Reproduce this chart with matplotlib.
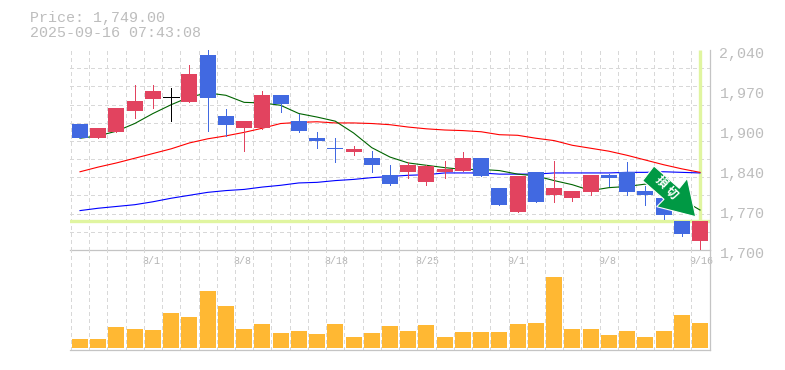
import matplotlib
matplotlib.use("Agg")
import matplotlib.pyplot as plt
from matplotlib.patches import Polygon
from matplotlib.transforms import Affine2D, ScaledTranslation

title_lines = ["Price: 1,749.00", "2025-09-16 07:43:08"]
last_price = 1749

opens = [1915,1891,1901,1937,1956,1960,1952,2032,1927,1907,1908,1964,1920,1891,1874,1867,1857,1827,
         1832,1816,1833,1835,1856,1806,1765,1833,1793,1788,1799,1827,1833,1801,1789,1749,1716]
closes = [1891,1907,1941,1954,1971,1960,2000,1959,1913,1920,1964,1949,1903,1886,1871,1871,1844,1813,
          1844,1842,1837,1856,1825,1777,1825,1781,1806,1801,1827,1823,1799,1793,1759,1728,1749]
highs = [1915,1907,1941,1980,1980,1976,2014,2041,1939,1920,1971,1964,1932,1901,1890,1876,1869,1845,
         1850,1844,1852,1866,1856,1806,1825,1833,1852,1801,1828,1830,1849,1809,1789,1749,1749]
lows = [1891,1890,1901,1925,1941,1920,1951,1903,1894,1869,1905,1934,1901,1874,1850,1862,1832,1811,
        1822,1811,1823,1835,1825,1777,1765,1781,1781,1784,1793,1808,1793,1777,1752,1723,1700]
ma_green = [1890,1894,1902,1915,1932,1947,1960,1967,1963,1951,1950,1946,1932,1926,1919,1899,1874,1858,
            1848,1844,1840,1837,1837,1835,1829,1826,1818,1811,1801,1806,1808,1812,1809,1786,1768]
ma_red = [1833,1841,1848,1856,1864,1872,1882,1889,1894,1900,1907,1915,1917,1918,1916,1916,1915,1913,
          1909,1906,1904,1903,1901,1896,1895,1890,1886,1878,1873,1868,1861,1853,1845,1838,1832]
ma_blue = [1767,1771,1774,1777,1782,1788,1793,1798,1801,1803,1807,1810,1814,1815,1818,1820,1823,1825,
           1827,1828,1831,1831,1831,1829,1829,1829,1831,1831,1831,1831,1832,1832,1833,1832,1831]
volumes = [270,270,630,570,540,1050,930,1710,1260,570,720,450,510,420,720,330,450,660,
           510,690,330,480,480,480,720,750,2130,570,570,390,510,330,510,990,750]
price_ticks = [1700,1768,1836,1904,1972,2040]
price_labels = ["1,700","1,770","1,840","1,900","1,970","2,040"]
date_positions = [4,9,14,19,24,29,34]
date_labels = ["8/1","8/8","8/18","8/25","9/1","9/8","9/16"]
signal_label = ["損", "切"]

RED, BLUE, GRID, AXIS, TXT = "#E2435F", "#4169E1", "#D8D8D8", "#C4C4C4", "#BDBDBD"
GUIDE, VOL, BADGE = "#E0F5A0", "#FFB833", "#009944"
W, H = 785, 370
plt.rcParams["font.family"] = ["Liberation Mono", "DejaVu Sans"]
fig = plt.figure(figsize=(W/100, H/100), dpi=100, facecolor="white")

def rect(x0, y0, x1, y1):
    return [x0/W, 1-y1/H, (x1-x0)/W, (y1-y0)/H]

ax = fig.add_axes(rect(70, 50, 710, 250))
axv = fig.add_axes(rect(70, 250, 710, 350))
idx = list(range(len(opens)))
step = 18.235
xlim = ((70-80)/step, (710-80)/step)
edges = [i-0.5 for i in idx]
hgrid = [1700 + k*340/11 for k in range(12)]

for a in (ax, axv):
    a.set_xlim(*xlim)
    a.set_facecolor("none")
    a.set_axisbelow(True)
    a.set_xticks(edges, minor=True)
    a.tick_params(which="both", length=0)
    a.grid(True, which="minor", axis="x", color=GRID, lw=0.72, ls=(0, (3, 3)), antialiased=False)
    for s in ("left", "top"):
        a.spines[s].set_visible(False)
    for s in ("right", "bottom"):
        a.spines[s].set_color(AXIS)
        a.spines[s].set_linewidth(0.9)

ax.set_ylim(1700, 2040)
ax.set_yticks(hgrid, minor=True)
ax.grid(True, which="minor", axis="y", color=GRID, lw=0.72, ls=(0, (3, 3)), antialiased=False)
for axis in (ax.xaxis, ax.yaxis, axv.xaxis):
    for tick in axis.get_minor_ticks():
        tick.gridline.set_clip_on(False)

ax.yaxis.tick_right()
ax.set_yticks(price_ticks, price_labels)
ax.tick_params(axis="y", which="major", pad=6.8, labelsize=10.8, labelcolor=TXT)
px = fig.dpi_scale_trans
down3 = ScaledTranslation(0, -2.6/100, px)
for lab in ax.get_yticklabels():
    lab.set_transform(lab.get_transform() + down3)

ax.set_xticks(date_positions, date_labels)
ax.tick_params(axis="x", which="major", pad=4.4, labelsize=7.2, labelcolor="#B4B4B4")
left = ScaledTranslation(-10.7/100, 0, px)
for lab in ax.get_xticklabels():
    lab.set_ha("left")
    lab.set_transform(lab.get_transform() + left)

# current price guides
ax.axhline(last_price, color=GUIDE, lw=2.4, zorder=1.5)
ax.vlines(idx[-1], last_price, 2040, color=GUIDE, lw=2.4, zorder=1.5)

# moving averages
for series, col in ((ma_blue, "#0000FF"), (ma_red, "#FF0000"), (ma_green, "#006400")):
    ax.plot(idx, series, color=col, lw=0.8, zorder=2)

# candles
colors = ["#000000" if o == c else (RED if c > o else BLUE) for o, c in zip(opens, closes)]
ax.vlines(idx, lows, highs, colors=colors, lw=0.72, zorder=3, antialiased=False)
body_w = 16/step
for i, o, c, col in zip(idx, opens, closes, colors):
    if o == c:
        ax.hlines(o, i-body_w/2, i+body_w/2, color=col, lw=0.72, zorder=4, antialiased=False)
    else:
        ax.bar(i, c-o, bottom=o, width=body_w, color=col, linewidth=0, zorder=4)

# volume
axv.set_ylim(-70, 2930)
axv.set_yticks([])
axv.set_xticks([])
axv.bar(idx, volumes, width=body_w, color=VOL, linewidth=0, zorder=3)

# title
for line, y in zip(title_lines, (18, 33)):
    fig.text(29.8/W, 1-y/H, line, color=TXT, fontsize=10.8, va="center", ha="left")

# signal badge, in picture pixels
pix = Affine2D().scale(1, -1).translate(0, H)
badge = [(654, 166), (679.3, 188.3), (687.3, 178.3), (695.7, 216.7), (656.7, 206.7), (664, 199.3), (642.7, 180.7)]
fig.add_artist(Polygon(badge, closed=True, facecolor=BADGE, edgecolor="white", lw=0.8, transform=pix, zorder=5))
for ch, (x, y) in zip(signal_label, ((660.7, 182.3), (671.7, 193.3))):
    fig.text(x/W, 1-y/H, ch, color="white", fontsize=8.6, fontweight="bold", rotation=-45,
             rotation_mode="anchor", ha="center", va="center",
             family=["Noto Sans CJK JP", "DejaVu Sans"], zorder=6)

fig.savefig("out.png", dpi=100, facecolor="white")
